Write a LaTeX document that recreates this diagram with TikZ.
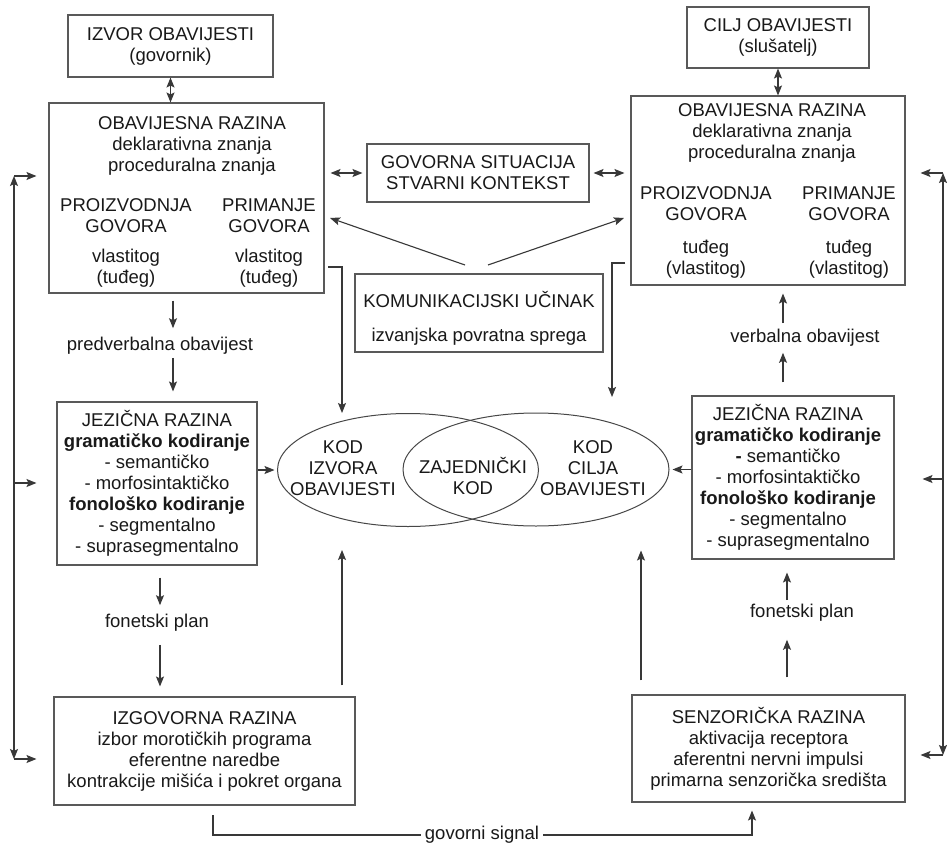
\documentclass[tikz,border=0pt]{standalone}
\usepackage{fontspec}
\setmainfont{Liberation Sans}
\usetikzlibrary{arrows.meta,shapes.geometric,calc}
\begin{document}
\begin{tikzpicture}[x=1pt,y=-1pt,
  every node/.style={font=\fontsize{18.5}{21}\selectfont, text=black!90, inner sep=0pt},
  bx/.style 2 args={draw=black!65, line width=1.1pt, minimum width=#1, minimum height=#2, align=center},
  ell/.style 2 args={ellipse, draw=black!72, line width=1pt, minimum width=#1, minimum height=#2},
  tip/.style={},
  arr/.style={-{Stealth[length=10pt,width=8pt,inset=2pt]}, draw=black!78, line width=1.1pt},
  darr/.style={{Stealth[length=10pt,width=8pt,inset=2pt]}-{Stealth[length=10pt,width=8pt,inset=2pt]}, draw=black!78, line width=1.1pt},
  lbl/.style={align=center}
]
\useasboundingbox (0,0) rectangle (947,845);
\fill[white] (0,0) rectangle (947,845);

% ---------- boxes ----------
\node[bx={205}{62}] (izvor) at (170.5,46) {IZVOR OBAVIJESTI\\(govornik)};
\node[bx={182}{61}] (cilj) at (778,37.5) {CILJ OBAVIJESTI\\(slušatelj)};

\node[bx={275}{190}] (lobav) at (186.5,198) {};
\node[lbl] (lobavT) at (192,146) {OBAVIJESNA RAZINA\\deklarativna znanja\\proceduralna znanja};
\node[lbl] (lprod) at (126,216) {PROIZVODNJA\\GOVORA};
\node[lbl] (lprodv) at (126,268) {vlastitog\\(tuđeg)};
\node[lbl] (lprim) at (269,216) {PRIMANJE\\GOVORA};
\node[lbl] (lprimv) at (269,268) {vlastitog\\(tuđeg)};

\node[bx={274}{189}] (robav) at (768,190.5) {};
\node[lbl] (robavT) at (772,133) {OBAVIJESNA RAZINA\\deklarativna znanja\\proceduralna znanja};
\node[lbl] (rprod) at (706,204) {PROIZVODNJA\\GOVORA};
\node[lbl] (rprodv) at (706,259) {tuđeg\\(vlastitog)};
\node[lbl] (rprim) at (849,204) {PRIMANJE\\GOVORA};
\node[lbl] (rprimv) at (849,259) {tuđeg\\(vlastitog)};

\node[bx={222}{58}] (gov) at (478,173) {GOVORNA SITUACIJA\\STVARNI KONTEKST};

\node[bx={248}{78}] (kom) at (479,313) {};
\node (komT1) at (479,300) {KOMUNIKACIJSKI UČINAK};
\node (komT2) at (479,337) {izvanjska povratna sprega};

\node[bx={200}{163}] (ljez) at (157,483.5) {JEZIČNA RAZINA\\\textbf{gramatičko kodiranje}\\- semantičko\\- morfosintaktičko\\\textbf{fonološko kodiranje}\\- segmentalno\\- suprasegmentalno};

\node[bx={202}{163}] (rjez) at (793,477.5) {};
\node[lbl] (rjezT) at (788,477) {JEZIČNA RAZINA\\\textbf{gramatičko kodiranje}\\\textbf{-} semantičko\\- morfosintaktičko\\\textbf{fonološko kodiranje}\\- segmentalno\\- suprasegmentalno};

\node[bx={301}{108}] (izg) at (204.5,751) {IZGOVORNA RAZINA\\izbor morotičkih programa\\eferentne naredbe\\kontrakcije mišića i pokret organa};
\node[bx={273}{107}] (senz) at (768.5,748.5) {SENZORIČKA RAZINA\\aktivacija receptora\\aferentni nervni impulsi\\primarna senzorička središta};

% ---------- ellipses ----------
\node[ell={261}{113}] (lell) at (408,470) {};
\node[ell={266}{113}] (rell) at (536,469.5) {};
\node[lbl] (lellT) at (343,468) {KOD\\IZVORA\\OBAVIJESTI};
\node[lbl] (zaj) at (473,476) {ZAJEDNIČKI\\KOD};
\node[lbl] (rellT) at (593,468) {KOD\\CILJA\\OBAVIJESTI};

% ---------- labels ----------
\node (pred) at (160,346) {predverbalna obavijest};
\node (lfon) at (157,623) {fonetski plan};
\node (verb) at (805,338) {verbalna obavijest};
\node (rfon) at (802,613) {fonetski plan};

% ---------- coordinates ----------
\coordinate (ka) at (465,265);
\coordinate (kb) at (488,265);
\coordinate (la) at (330,218);
\coordinate (ra) at (624,218);
\coordinate (lf0) at (328,267);
\coordinate (lf1) at (342,413);
\coordinate (rf0) at (625,263);
\coordinate (rf1) at (612,397);
\coordinate (L1) at (14,176);
\coordinate (L2) at (14,759);
\coordinate (L3) at (14,483);
\coordinate (R1) at (943,173);
\coordinate (R2) at (943,755);
\coordinate (R3) at (943,479);
\coordinate (g0) at (213,815);
\coordinate (g1) at (213,835);
\coordinate (g2) at (752,835);

% ---------- connectors ----------
\draw[darr] (izvor.south) -- (izvor.south |- lobav.north);
\draw[darr] (cilj.south) -- (cilj.south |- robav.north);
\draw[darr, shorten <=6pt, shorten >=4pt] (gov.west -| lobav.east) -- (gov.west);
\draw[darr, shorten <=4pt, shorten >=6pt] (gov.east) -- (gov.east -| robav.west);

\draw[arr] (ka) -- (la);
\draw[arr] (kb) -- (ra);
\draw[arr] (lf0) -| (lf1);
\draw[arr] (rf0) -| (rf1);

\draw[arr, shorten <=7pt, shorten >=9pt] (173,0 |- lobav.south) -- (173,0 |- pred.north);
\draw[arr, shorten <=3pt, shorten >=10pt] (173,0 |- pred.south) -- (173,0 |- ljez.north);
\draw[arr, shorten <=12pt, shorten >=9pt] (160,0 |- ljez.south) -- (160,0 |- lfon.north);
\draw[arr, shorten <=13pt, shorten >=10pt] (160,0 |- lfon.south) -- (160,0 |- izg.north);

\draw[arr, shorten <=13pt, shorten >=6pt] (783,0 |- rjez.north) -- (783,0 |- verb.south);
\draw[arr, shorten <=6pt, shorten >=8pt] (783,0 |- verb.north) -- (783,0 |- robav.south);
\draw[arr, shorten <=17pt, shorten >=18pt] (787,0 |- senz.north) -- (787,0 |- rfon.south);
\draw[arr, shorten <=4pt, shorten >=13pt] (787,0 |- rfon.north) -- (787,0 |- rjez.south);

\draw[arr, shorten <=11pt, shorten >=23pt] (342,0 |- izg.north) -- (342,0 |- lell.south);
\draw[arr, shorten <=14pt, shorten >=24pt] (641,0 |- senz.north) -- (641,0 |- rell.south);

\draw[arr, shorten >=2.5pt] (ljez.east |- lell.west) -- (lell.west);
\draw[arr, shorten >=3pt] (rjez.west |- rell.east) -- (rell.east);

\draw[darr] (L1) -- (L2);
\draw[arr, shorten >=12pt] (L1) -- (lobav.west |- L1);
\draw[arr, shorten >=17pt] (L2) -- (izg.west |- L2);
\draw[arr, shorten >=20pt] (L3) -- (ljez.west |- L3);

\draw[darr] (R1) -- (R2);
\draw[arr, shorten >=15pt] (R1) -- (robav.east |- R1);
\draw[arr, shorten >=15pt] (R2) -- (senz.east |- R2);
\draw[arr, shorten >=28pt] (R3) -- (rjez.east |- R3);

\draw[arr, shorten >=8pt] (g0) -- (g1) -- (g2) -- (g2 |- senz.south);
\node[fill=white, inner xsep=4pt, inner ysep=2pt] (gs) at (482,835) {govorni signal};
\end{tikzpicture}
\end{document}
